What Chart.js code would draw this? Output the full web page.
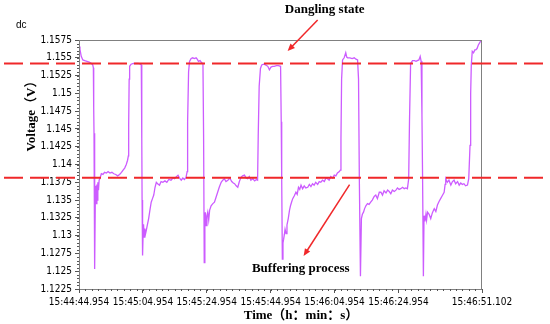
<!DOCTYPE html>
<html>
<head>
<meta charset="utf-8">
<script src="https://cdn.jsdelivr.net/npm/chart.js@4"></script>
<style>
  html, body { margin: 0; padding: 0; background: #fff; }
  #wrap { width: 550px; height: 324px; position: relative; }
</style>
</head>
<body>
<div id="wrap"><canvas id="chart"></canvas></div>
<script>
// time in seconds from 15:44:44.954
const times = [
  0, 0.3, 0.7, 1.2, 1.8, 2.5, 3.2, 3.9, 4.3, 4.5,
  4.6, 4.7, 4.8, 4.9, 5.0,
  5.15, 5.3, 5.45, 5.6, 5.75, 5.9, 6.1, 6.3, 6.6, 7.0, 7.5, 8.0, 8.6, 9.1, 9.7, 10.3, 10.9, 11.5, 12.1, 12.7, 13.3, 13.8, 14.3, 14.8, 15.2, 15.45,
  15.55, 15.7, 15.85, 16.3, 17, 17.8, 18.5, 19.2, 19.5,
  19.65, 19.75, 19.9, 20.05, 20.2, 20.4, 20.6, 20.8, 21.0, 21.4, 21.8, 22.2, 22.6, 23.0, 23.4, 23.8, 24.2, 24.6, 25.2, 25.7, 26.25, 26.9, 27.5, 28.1, 28.8, 29.4, 29.9, 30.5, 31.0, 31.6, 32.0, 32.5, 33.0, 33.5, 33.85,
  34.0, 34.3, 34.6, 35.1, 35.6, 36.1, 36.65, 37.0, 37.4, 37.9, 38.4, 38.8,
  39.0, 39.2, 39.4, 39.55, 39.8, 40.05, 40.3, 40.6, 40.9, 41.35, 41.9, 42.4, 42.9, 43.4, 43.9, 44.5, 45.0, 45.5, 46.0, 46.6, 47.2, 47.8, 48.3, 48.7, 49.2, 49.7, 50.2, 50.7, 51.2, 51.8, 52.3, 52.8, 53.3, 53.8, 54.4, 55.0, 55.5, 55.9,
  56.1, 56.4, 56.8, 57.2, 57.8, 58.4, 59.1, 59.6, 60.1, 60.6, 61.1, 61.8, 62.4, 63.1,
  63.3, 63.45, 63.65, 63.85, 64.06, 64.3, 64.5, 64.8, 65.1, 65.5, 65.9, 66.2, 66.6, 66.9, 67.4, 67.9, 68.3, 68.7, 69.1, 69.5, 70.0, 70.5, 71.0, 71.6, 72.1, 72.6, 73.1, 73.6, 74.1, 74.7, 75.2, 75.7, 76.2, 76.8, 77.3, 77.8, 78.3, 78.8, 79.4, 79.9, 80.4, 80.9, 81.5, 81.8,
  82.0, 82.2, 82.5, 83.0, 83.5, 83.8, 84.1, 84.8, 85.5, 86.15, 86.7, 87.2,
  87.5, 87.75, 88.1, 88.4, 88.7, 89.06, 89.4, 89.8, 90.3, 90.8, 91.3, 91.8, 92.4, 92.9, 93.4, 94.0, 94.5, 95.0, 95.5, 96.1, 96.6, 97.1, 97.6, 98.1, 98.7, 99.2, 99.7, 100.2, 100.7, 101.3, 101.8, 102.3, 102.8, 103.2,
  103.45, 103.8, 104.4, 105.0, 105.5, 105.9, 106.4, 106.8, 107.1,
  107.35, 107.55, 107.8, 108.0, 108.3, 108.6, 108.8, 109.1, 109.6, 110.1, 110.6, 111.2, 111.7, 112.2, 112.7, 113.2, 113.7, 114.3, 114.6, 114.8, 115.3, 115.8, 116.4, 116.9, 117.4, 117.9, 118.5, 119.0, 119.5, 120.0, 120.5, 121.0, 121.6, 122.0,
  122.4, 122.6, 122.8, 123.1, 123.5, 123.9, 124.2, 124.6, 125.0, 125.4, 125.8, 126.1
]
const volts = [
  1.1566, 1.1562, 1.1552, 1.1547, 1.1546, 1.1545, 1.1544, 1.1542, 1.1540, 1.1536,
  1.1480, 1.1444, 1.1300, 1.1275, 1.1253,
  1.1370, 1.1362, 1.1345, 1.1372, 1.1350, 1.1375, 1.1364, 1.1378, 1.1381, 1.1387, 1.1386, 1.1389, 1.1388, 1.1390, 1.1388, 1.1389, 1.1387, 1.1386, 1.1384, 1.1386, 1.1389, 1.1392, 1.1395, 1.1400, 1.1406, 1.1412,
  1.1455, 1.1520, 1.1538, 1.1541, 1.1542, 1.1542, 1.1542, 1.1541, 1.1540,
  1.1437, 1.1350, 1.1272, 1.1300, 1.1316, 1.1298, 1.1310, 1.1302, 1.1306, 1.1315, 1.1324, 1.1336, 1.1347, 1.1352, 1.1357, 1.1368, 1.1375, 1.1373, 1.1371, 1.1376, 1.1375, 1.1377, 1.1375, 1.1379, 1.1378, 1.1381, 1.1380, 1.1383, 1.1385, 1.1380, 1.1378, 1.1381, 1.1379, 1.1382, 1.1390,
  1.1460, 1.1530, 1.1545, 1.1549, 1.1550, 1.1549, 1.1550, 1.1548, 1.1545, 1.1546, 1.1543, 1.1542,
  1.1440, 1.1262, 1.1320, 1.1333, 1.1314, 1.1328, 1.1333, 1.1322, 1.1336, 1.1342, 1.1345, 1.1347, 1.1354, 1.1361, 1.1368, 1.1375, 1.1378, 1.1380, 1.1376, 1.1378, 1.1381, 1.1376, 1.1374, 1.1373, 1.1370, 1.1368, 1.1376, 1.1382, 1.1384, 1.1385, 1.1381, 1.1380, 1.1383, 1.1378, 1.1380, 1.1377, 1.1379, 1.1378,
  1.1440, 1.1510, 1.1535, 1.1540, 1.1541, 1.1540, 1.1538, 1.1533, 1.1537, 1.1538, 1.1538, 1.1539, 1.1539, 1.1538,
  1.1460, 1.1380, 1.1267, 1.1290, 1.1295, 1.1302, 1.1309, 1.1303, 1.1315, 1.1324, 1.1336, 1.1342, 1.1348, 1.1352, 1.1356, 1.1361, 1.1358, 1.1368, 1.1365, 1.1371, 1.1366, 1.1370, 1.1367, 1.1368, 1.1372, 1.1369, 1.1373, 1.1371, 1.1375, 1.1372, 1.1376, 1.1375, 1.1378, 1.1376, 1.1381, 1.1380, 1.1378, 1.1383, 1.1381, 1.1385, 1.1384, 1.1388, 1.1390, 1.1392,
  1.1437, 1.1520, 1.1547, 1.1550, 1.1557, 1.1551, 1.1550, 1.1550, 1.1549, 1.1550, 1.1548, 1.1547,
  1.1520, 1.1380, 1.1243, 1.1324, 1.1330, 1.1333, 1.1338, 1.1342, 1.1345, 1.1344, 1.1347, 1.1350, 1.1355, 1.1357, 1.1352, 1.1361, 1.1361, 1.1357, 1.1363, 1.1360, 1.1364, 1.1362, 1.1359, 1.1364, 1.1362, 1.1364, 1.1367, 1.1365, 1.1366, 1.1368, 1.1366, 1.1367, 1.1366, 1.1380,
  1.1460, 1.1542, 1.1546, 1.1546, 1.1545, 1.1546, 1.1547, 1.1552, 1.1545,
  1.1470, 1.1380, 1.1243, 1.1328, 1.1320, 1.1330, 1.1322, 1.1333, 1.1330, 1.1324, 1.1332, 1.1338, 1.1334, 1.1343, 1.1348, 1.1352, 1.1356, 1.1361, 1.1372, 1.1380, 1.1375, 1.1378, 1.1371, 1.1376, 1.1378, 1.1373, 1.1376, 1.1371, 1.1374, 1.1372, 1.1373, 1.1370, 1.1371, 1.1380,
  1.1427, 1.1500, 1.1540, 1.1559, 1.1557, 1.1561, 1.1561, 1.1563, 1.1568, 1.1571, 1.1574, 1.1575
]

const xTickVals = [0, 20, 40, 60, 80, 100, 126.148]
const xTickLabels = ['15:44:44.954', '15:45:04.954', '15:45:24.954', '15:45:44.954', '15:46:04.954', '15:46:24.954', '15:46:51.102']
const yTickVals = [1.1225, 1.125, 1.1275, 1.13, 1.1325, 1.135, 1.1375, 1.14, 1.1425, 1.145, 1.1475, 1.15, 1.1525, 1.155, 1.1575]
const refLevels = [1.1542, 1.13815]   // dangling state / buffering level

const tickFont = { family: "'Liberation Sans Narrow', 'DejaVu Sans Condensed', sans-serif", size: 10 }
const serifBold = "bold 13px 'Liberation Serif', 'Noto Sans CJK SC', serif"

// red reference lines, arrows and labels
const overlay = {
  id: 'overlay',
  afterDatasetsDraw(chart) {
    const { ctx, chartArea: a, scales: { x, y } } = chart
    ctx.save()

    // frame
    ctx.strokeStyle = '#808080'
    ctx.lineWidth = 1
    ctx.strokeRect(a.left + 0.5, a.top + 0.5, a.right - a.left - 1, a.bottom - a.top)

    // minor ticks
    ctx.strokeStyle = '#555'
    ctx.beginPath()
    for (let v = yTickVals[0]; v <= yTickVals[yTickVals.length - 1] + 1e-9; v += 0.0005) {
      const py = Math.round(y.getPixelForValue(v)) + 0.5
      ctx.moveTo(a.left - 2, py); ctx.lineTo(a.left, py)
    }
    for (let t = 0; t <= 126; t += 2) {
      const px = Math.round(x.getPixelForValue(t)) + 0.5
      ctx.moveTo(px, a.bottom); ctx.lineTo(px, a.bottom + 2)
    }
    ctx.stroke()

    // dashed levels across the whole figure
    ctx.strokeStyle = '#f0282a'
    ctx.lineWidth = 2
    ctx.setLineDash([19, 7])
    refLevels.forEach(v => {
      const py = y.getPixelForValue(v)
      ctx.beginPath(); ctx.moveTo(4, py); ctx.lineTo(550, py); ctx.stroke()
    })
    ctx.setLineDash([])

    const arrow = (t1, v1, t2, v2) => {
      const x1 = x.getPixelForValue(t1), y1 = y.getPixelForValue(v1)
      const x2 = x.getPixelForValue(t2), y2 = y.getPixelForValue(v2)
      const ang = Math.atan2(y2 - y1, x2 - x1)
      ctx.strokeStyle = '#f0282a'; ctx.fillStyle = '#f0282a'; ctx.lineWidth = 1.5
      ctx.beginPath(); ctx.moveTo(x1, y1)
      ctx.lineTo(x2 - 6 * Math.cos(ang), y2 - 6 * Math.sin(ang)); ctx.stroke()
      ctx.beginPath(); ctx.moveTo(x2, y2)
      ctx.lineTo(x2 - 8 * Math.cos(ang - 0.4), y2 - 8 * Math.sin(ang - 0.4))
      ctx.lineTo(x2 - 8 * Math.cos(ang + 0.4), y2 - 8 * Math.sin(ang + 0.4))
      ctx.closePath(); ctx.fill()
    }
    arrow(74.7, 1.16032, 65.3, 1.15595)
    arrow(84.7, 1.13716, 70.3, 1.12713)

    ctx.fillStyle = '#000'
    ctx.font = serifBold
    ctx.textAlign = 'center'; ctx.textBaseline = 'middle'
    ctx.fillText('Dangling state', x.getPixelForValue(76.9), y.getPixelForValue(1.16174))
    ctx.fillText('Buffering process', x.getPixelForValue(69.4), y.getPixelForValue(1.1253))

    // axis titles
    ctx.fillText('Time（h：min：s）', 301, 316)
    ctx.save()
    ctx.translate(32, 113); ctx.rotate(-Math.PI / 2)
    ctx.fillText('Voltage（V）', 0, 0)
    ctx.restore()

    ctx.font = "10px 'Liberation Sans', sans-serif"
    ctx.textAlign = 'left'
    ctx.fillText('dc', 16, 25)
    ctx.restore()
  }
}

new Chart(document.querySelector('#chart'), {
  type: 'line',
  data: {
    datasets: [{
      data: times.map((t, i) => ({ x: t, y: volts[i] })),
      borderColor: '#cc5cff',
      borderWidth: 1.3,
      pointRadius: 0,
      tension: 0
    }]
  },
  options: {
    responsive: true,
    maintainAspectRatio: false,
    animation: false,
    events: [],
    layout: { padding: { top: 40, right: 68, left: 0, bottom: 0 } },
    plugins: { legend: { display: false }, tooltip: { enabled: false } },
    scales: {
      x: {
        type: 'linear', min: 0, max: 126.148,
        afterBuildTicks: s => { s.ticks = xTickVals.map(v => ({ value: v })) },
        afterFit: s => { s.height = 35 },
        ticks: { font: tickFont, color: '#000', padding: 3, maxRotation: 0, autoSkip: false,
          callback: (v, i) => xTickLabels[i] },
        grid: { drawOnChartArea: false, tickLength: 4, color: '#555' },
        border: { color: '#606060' }
      },
      y: {
        min: 1.1225, max: 1.1575,
        afterBuildTicks: s => { s.ticks = yTickVals.map(v => ({ value: v })) },
        afterFit: s => { s.width = 79 },
        ticks: { font: tickFont, color: '#000', padding: 3, autoSkip: false,
          callback: v => String(Number(v.toFixed(4))) },
        grid: { drawOnChartArea: false, tickLength: 4, color: '#555' },
        border: { color: '#606060' }
      }
    }
  },
  plugins: [overlay]
})
</script>
</body>
</html>
